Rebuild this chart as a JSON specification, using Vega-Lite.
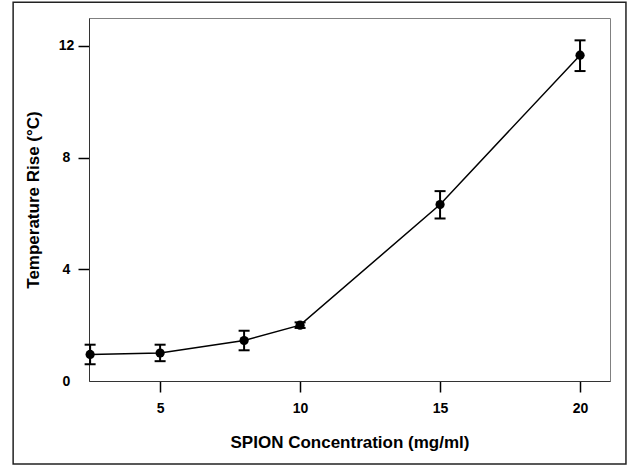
{
  "$schema": "https://vega.github.io/schema/vega-lite/v6.json",
  "width": 521,
  "height": 363,
  "autosize": "none",
  "padding": {"left": 89, "top": 18, "right": 18, "bottom": 84},
  "background": "white",
  "config": {
    "view": {"stroke": "#808080", "strokeWidth": 1},
    "font": "Liberation Sans",
    "axis": {
      "grid": false,
      "domainColor": "#333333",
      "domainWidth": 1,
      "tickColor": "black",
      "tickWidth": 1.5,
      "tickSize": 11,
      "labelColor": "black",
      "labelFont": "Liberation Sans",
      "labelFontSize": 14,
      "labelFontWeight": "bold",
      "titleColor": "black",
      "titleFont": "Liberation Sans",
      "titleFontSize": 17,
      "titleFontWeight": "bold",
      "labelFlush": false
    }
  },
  "data": {
    "values": [
      {"conc": 2.5, "rise": 0.95, "lo": 0.6, "hi": 1.3},
      {"conc": 5, "rise": 1.0, "lo": 0.71, "hi": 1.3},
      {"conc": 8, "rise": 1.45, "lo": 1.1, "hi": 1.8},
      {"conc": 10, "rise": 2.0, "lo": 1.9, "hi": 2.1},
      {"conc": 15, "rise": 6.32, "lo": 5.82, "hi": 6.8},
      {"conc": 20, "rise": 11.67, "lo": 11.1, "hi": 12.2}
    ]
  },
  "layer": [
    {
      "mark": {"type": "line", "color": "black", "strokeWidth": 1.5},
      "encoding": {
        "x": {
          "field": "conc",
          "type": "quantitative",
          "scale": {"domain": [2.46, 21.07], "nice": false, "zero": false},
          "axis": {
            "values": [5, 10, 15, 20],
            "title": "SPION Concentration (mg/ml)",
            "labelPadding": 9,
            "titlePadding": 19
          }
        },
        "y": {
          "field": "rise",
          "type": "quantitative",
          "scale": {"domain": [0, 13], "nice": false, "zero": false},
          "axis": {
            "values": [0, 4, 8, 12],
            "title": "Temperature Rise (°C)",
            "labelAlign": "center",
            "labelPadding": 12,
            "titlePadding": 16,
            "tickOpacity": {"condition": {"test": "datum.value == 0", "value": 0}, "value": 1}
          }
        }
      }
    },
    {
      "mark": {"type": "rule", "color": "black", "strokeWidth": 2},
      "encoding": {
        "x": {"field": "conc", "type": "quantitative"},
        "y": {"field": "lo", "type": "quantitative"},
        "y2": {"field": "hi"}
      }
    },
    {
      "mark": {"type": "tick", "orient": "horizontal", "size": 11, "thickness": 2, "color": "black", "opacity": 1},
      "encoding": {
        "x": {"field": "conc", "type": "quantitative"},
        "y": {"field": "lo", "type": "quantitative"}
      }
    },
    {
      "mark": {"type": "tick", "orient": "horizontal", "size": 11, "thickness": 2, "color": "black", "opacity": 1},
      "encoding": {
        "x": {"field": "conc", "type": "quantitative"},
        "y": {"field": "hi", "type": "quantitative"}
      }
    },
    {
      "mark": {"type": "point", "filled": true, "size": 85, "color": "black", "opacity": 1},
      "encoding": {
        "x": {"field": "conc", "type": "quantitative"},
        "y": {"field": "rise", "type": "quantitative"}
      }
    },
    {
      "data": {"values": [{}]},
      "mark": {"type": "rect", "fill": null, "stroke": "#222222", "strokeWidth": 1.5, "clip": false},
      "encoding": {
        "x": {"datum": -0.25, "type": "quantitative"},
        "x2": {"datum": 21.64},
        "y": {"datum": 13.56, "type": "quantitative"},
        "y2": {"datum": -2.97}
      }
    }
  ]
}
